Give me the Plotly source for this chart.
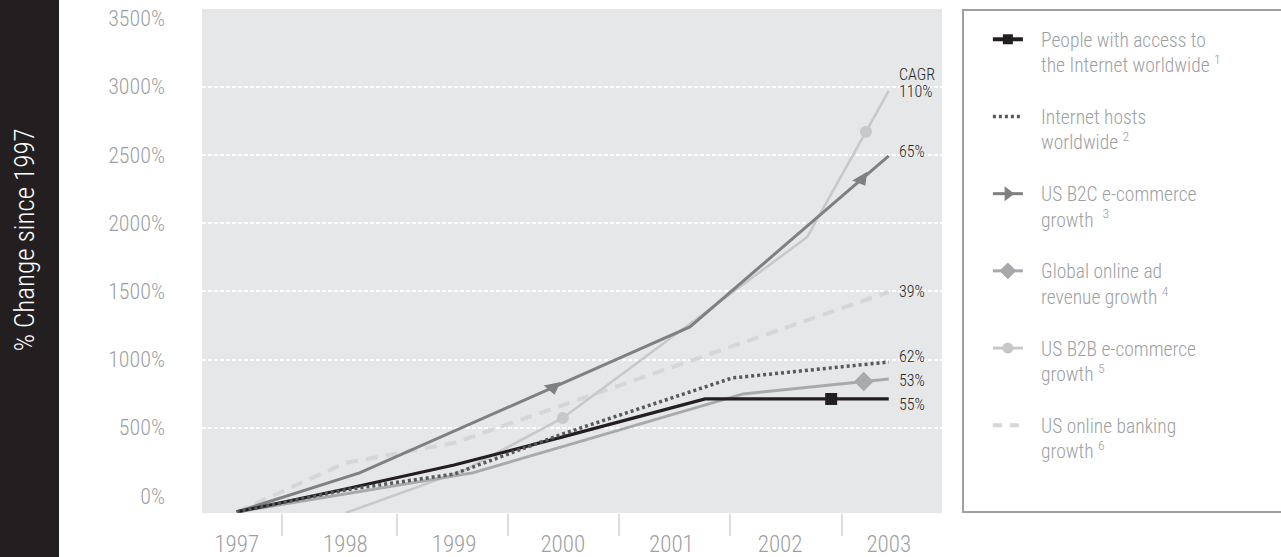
import plotly.graph_objects as go

# ---- axis categories and labels ----
years = [1997, 1998, 1999, 2000, 2001, 2002, 2003]
year_labels = ["1997", "1998", "1999", "2000", "2001", "2002", "2003"]
year_dividers = [1997.42, 1998.47, 1999.50, 2000.52, 2001.54, 2002.57]
pct_ticks = [0, 500, 1000, 1500, 2000, 2500, 3000, 3500]
pct_labels = ["0%", "500%", "1000%", "1500%", "2000%", "2500%", "3000%", "3500%"]
grid_levels = [500, 1000, 1500, 2000, 2500, 3000]

# ---- series: % change since 1997 ----
access_x = [1997, 1998, 1999, 2000, 2001.31, 2003]
access_y = [-117, 51, 227, 433, 711, 711]
hosts_x = [1997, 1998, 1999, 2000, 2001.56, 2003]
hosts_y = [-117, 44, 161, 455, 865, 982]
b2c_x = [1997, 1998.13, 2001.17, 2003]
b2c_y = [-117, 169, 1239, 2493]
ad_x = [1997, 1999.17, 2001.66, 2003]
ad_y = [-117, 169, 748, 858]
b2b_x = [1998, 1999.1, 2000, 2002.25, 2003]
b2b_y = [-125, 191, 572, 1899, 2969]
bank_x = [1997, 1998, 1999, 2003]
bank_y = [-117, 242, 389, 1496]

# marker points sitting on the lines
access_mx, access_my = [2002.47], [711]
b2c_mx, b2c_my = [1999.91, 2002.75], [796, 2321]
ad_mx, ad_my = [2002.77], [839]
b2b_mx, b2b_my = [2000, 2002.79], [572, 2670]

# CAGR labels at the right end
cagr_text = ["110%", "65%", "39%", "62%", "53%", "55%"]
cagr_y = [2962, 2522, 1496, 1026, 850, 674]
cagr_head_y = 3087

FONT = "Roboto Condensed, Liberation Sans Narrow, DejaVu Sans Condensed, sans-serif"

C_BLACK = "#231f20"
C_HOSTS = "#58595b"
C_B2C = "#808080"
C_AD = "#a7a9ac"
C_B2B = "#c7c8ca"
C_BANK = "#d5d6d8"
C_TEXT = "#9d9fa2"

PAD = "&nbsp;&nbsp;&nbsp;"


def entry(line1, line2):
    return PAD + line1 + "<br>" + PAD + line2


legend_names = {
    "access": entry("People with access to", "the Internet worldwide <sup>1</sup>"),
    "hosts": entry("Internet hosts", "worldwide <sup>2</sup>"),
    "b2c": entry("US B2C e-commerce", "growth  <sup>3</sup>"),
    "ad": entry("Global online ad", "revenue growth <sup>4</sup>"),
    "b2b": entry("US B2B e-commerce", "growth <sup>5</sup>"),
    "bank": entry("US online banking", "growth <sup>6</sup>"),
}

fig = go.Figure()

# lines, lightest first
fig.add_trace(go.Scatter(x=bank_x, y=bank_y, mode="lines", showlegend=False,
                         line=dict(color=C_BANK, width=4, dash="12px,8px")))
fig.add_trace(go.Scatter(x=b2b_x, y=b2b_y, mode="lines", showlegend=False,
                         line=dict(color=C_B2B, width=2.5)))
fig.add_trace(go.Scatter(x=ad_x, y=ad_y, mode="lines", showlegend=False,
                         line=dict(color=C_AD, width=3)))
fig.add_trace(go.Scatter(x=b2c_x, y=b2c_y, mode="lines", showlegend=False,
                         line=dict(color=C_B2C, width=3)))
fig.add_trace(go.Scatter(x=access_x, y=access_y, mode="lines", showlegend=False,
                         line=dict(color=C_BLACK, width=3.2)))
fig.add_trace(go.Scatter(x=hosts_x, y=hosts_y, mode="lines", showlegend=False,
                         line=dict(color=C_HOSTS, width=3.5, dash="3px,3px")))

# series markers
fig.add_trace(go.Scatter(x=b2b_mx, y=b2b_my, mode="markers", showlegend=False,
                         marker=dict(symbol="circle", size=12, color=C_B2B)))
fig.add_trace(go.Scatter(x=ad_mx, y=ad_my, mode="markers", showlegend=False,
                         marker=dict(symbol="diamond", size=15, color=C_AD)))
fig.add_trace(go.Scatter(x=b2c_mx, y=b2c_my, mode="markers", showlegend=False,
                         marker=dict(symbol="triangle-down", size=15, color=C_B2C,
                                     angle=[-12, -30])))
fig.add_trace(go.Scatter(x=access_mx, y=access_my, mode="markers", showlegend=False,
                         marker=dict(symbol="square", size=12, color=C_BLACK)))

# legend keys (no data of their own)
legend_keys = [
    ("access", dict(color=C_BLACK, width=4), dict(symbol="square", size=10, color=C_BLACK), "lines+markers"),
    ("hosts", dict(color=C_HOSTS, width=3.5, dash="3px,3px"), None, "lines"),
    ("b2c", dict(color=C_B2C, width=3), dict(symbol="triangle-right", size=13, color=C_B2C), "lines+markers"),
    ("ad", dict(color=C_AD, width=3), dict(symbol="diamond", size=13, color=C_AD), "lines+markers"),
    ("b2b", dict(color=C_B2B, width=3), dict(symbol="circle", size=11, color=C_B2B), "lines+markers"),
    ("bank", dict(color=C_BANK, width=4, dash="9px,8px"), None, "lines"),
]
for rank, (key, ln, mk, mode) in enumerate(legend_keys, start=1):
    kw = dict(marker=mk) if mk else {}
    fig.add_trace(go.Scatter(x=[None], y=[None], mode=mode, name=legend_names[key],
                             legendgroup=key, legendrank=rank, line=ln, **kw))

# CAGR labels
LABEL_FONT = dict(family=FONT, size=16, color="#262626", weight=300)
for txt, yv in zip(cagr_text, cagr_y):
    fig.add_annotation(x=2003, y=yv, xref="x", yref="y", text=txt, showarrow=False,
                       xanchor="left", xshift=8, yanchor="middle", font=LABEL_FONT)
fig.add_annotation(x=2003, y=cagr_head_y, xref="x", yref="y", text="CAGR", showarrow=False,
                   xanchor="left", xshift=8, yanchor="middle", font=LABEL_FONT)

# left title band
fig.add_shape(type="rect", xref="paper", yref="paper", x0=-0.275, x1=-0.1932,
              y0=-0.1, y1=1.03, fillcolor=C_BLACK, line=dict(width=0), layer="below")
fig.add_annotation(xref="paper", yref="paper", x=-0.2388, y=0.5417,
                   xanchor="center", yanchor="middle",
                   text="% Change since 1997", textangle=-90, showarrow=False,
                   font=dict(family=FONT, size=27, color="white", weight=300))

# legend frame
fig.add_shape(type="rect", xref="paper", yref="paper", x0=1.0284, x1=1.48,
              y0=0.002, y1=0.998, fillcolor="white",
              line=dict(color=C_TEXT, width=2), layer="below")

fig.update_layout(
    width=1281, height=557,
    margin=dict(l=202, r=339, t=9, b=44, autoexpand=False),
    paper_bgcolor="white",
    plot_bgcolor="#e6e7e8",
    font=dict(family=FONT, color=C_TEXT),
    legend=dict(x=1.062, y=0.978, xanchor="left", yanchor="top",
                bgcolor="rgba(0,0,0,0)", borderwidth=0,
                font=dict(family=FONT, size=19.5, color=C_TEXT, weight=300),
                itemwidth=30, valign="top", traceorder="grouped",
                tracegroupgap=23.5, itemclick=False, itemdoubleclick=False),
    xaxis=dict(range=[1996.68, 2003.49], tickmode="array", tickvals=years,
               ticktext=year_labels, showgrid=False, zeroline=False,
               showline=False, ticks="", ticklabelstandoff=15, automargin=False,
               tickfont=dict(family=FONT, size=23, color=C_TEXT, weight=300),
               minor=dict(tickmode="array", tickvals=year_dividers, ticks="outside",
                          ticklen=22, tickwidth=2, tickcolor="#dcdddf", showgrid=False)),
    yaxis=dict(range=[-125, 3570], tickmode="array", tickvals=pct_ticks,
               ticktext=pct_labels, showgrid=False, zeroline=False,
               showline=False, ticks="", ticklabelstandoff=36, automargin=False,
               tickfont=dict(family=FONT, size=22, color=C_TEXT, weight=300),
               minor=dict(tickmode="array", tickvals=grid_levels, ticks="",
                          showgrid=True, gridcolor="white", gridwidth=1.5,
                          griddash="4px,2px")),
    showlegend=True,
)

fig.write_html("out.html")
